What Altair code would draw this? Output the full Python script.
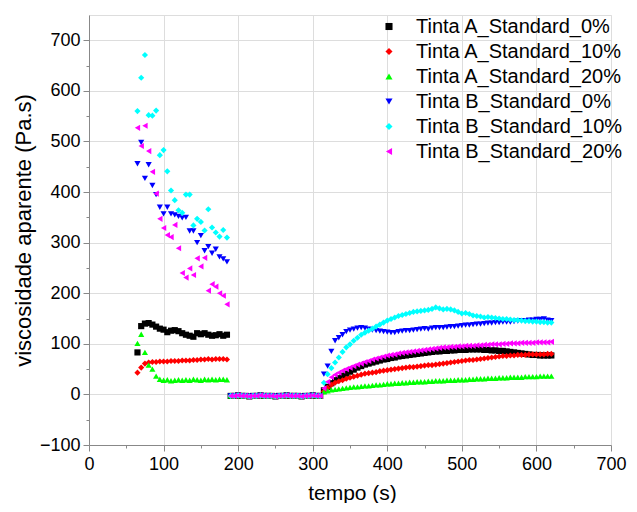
import altair as alt
import pandas as pd

SERIES = ["Tinta A_Standard_0%", "Tinta A_Standard_10%", "Tinta A_Standard_20%",
          "Tinta B_Standard_0%", "Tinta B_Standard_10%", "Tinta B_Standard_20%"]
COLORS = ["#000000", "#ff0000", "#00ff00", "#0000ff", "#00ffff", "#ff00ff"]
SHAPES = ["square", "diamond", "triangle-up", "triangle-down", "diamond", "triangle-left"]

X_TICKS = [0, 100, 200, 300, 400, 500, 600, 700]
X_MINOR = [50, 150, 250, 350, 450, 550, 650]
Y_TICKS = [-100, 0, 100, 200, 300, 400, 500, 600, 700]
Y_MINOR = [-50, 50, 150, 250, 350, 450, 550, 650]

T_EARLY = [65, 70, 75, 80, 85, 90, 95, 100, 105, 110, 115, 120, 125, 130, 135,
           140, 145, 150, 155, 160, 165, 170, 175, 180, 185]
T_PLATEAU = [190, 195, 200, 205, 210, 215, 220, 225, 230, 235, 240, 245, 250, 255,
             260, 265, 270, 275, 280, 285, 290, 295, 300, 305, 310]
T_RECOV = [315, 320, 325, 330, 335, 340, 345, 350, 355, 360,
           365, 370, 375, 380, 385, 390, 395, 400, 405, 410,
           415, 420, 425, 430, 435, 440, 445, 450, 455, 460,
           465, 470, 475, 480, 485, 490, 495, 500, 505, 510,
           515, 520, 525, 530, 535, 540, 545, 550, 555, 560,
           565, 570, 575, 580, 585, 590, 595, 600, 605, 610,
           615, 620]

PLATEAU = [-3, -3, -2, -3, -3, -4, -3, -3, -2, -3, -3, -3, -4, -3, -3,
           -2, -3, -3, -3, -4, -3, -3, -2, -3, -3]

A0_EARLY = [83, 135, 140, 141, 138, 134, 130, 128, 123, 126, 127, 125, 121, 118, 116,
            114, 121, 119, 121, 118, 116, 117, 119, 116, 118]
A10_EARLY = [43, 53, 61, 63, 64, 64, 65, 65, 65, 66, 66, 66, 67, 67, 67,
             68, 68, 69, 69, 70, 69, 70, 70, 70, 69]
A20_EARLY = [101, 119, 83, 58, 50, 36, 30, 28, 29, 27, 28, 29, 28, 29, 28,
             30, 29, 28, 30, 29, 30, 29, 30, 30, 29]
B0_EARLY = [456, 498, 427, 454, 413, 395, 370, 357, 370, 357, 355, 352, 349, 350, 323,
            323, 300, 314, 284, 292, 279, 287, 272, 268, 262]
B10_EARLY = [560, 626, 671, 552, 551, 561, 473, 483, 441, 403, 384, 364, 359, 395, 395,
             334, 347, 341, 324, 366, 330, 320, 312, 325, 310]
B20_EARLY = [527, 491, 531, 481, 440, 397, 347, 329, 315, 311, 335, 289, 240, 231, 249,
             236, 269, 253, 270, 205, 218, 213, 200, 195, 178]

A0_RECOV = [8, 15, 22, 28, 32, 37, 41, 45, 49, 53,
            56, 59, 61, 63, 65, 67, 69, 70, 72, 73,
            75, 76, 77, 78, 79, 80, 81, 82, 83, 84,
            85, 85, 86, 86, 87, 87, 88, 88, 88, 89,
            89, 89, 89, 88, 88, 87, 87, 86, 86, 85,
            84, 83, 82, 81, 80, 79, 78, 78, 77, 77,
            77, 77]
A10_RECOV = [6, 13, 19, 23, 26, 28, 31, 33, 35, 37,
             39, 41, 42, 43, 44, 46, 47, 48, 49, 50,
             51, 52, 53, 54, 54, 55, 56, 57, 58, 58,
             59, 60, 61, 62, 63, 64, 65, 66, 67, 68,
             68, 69, 70, 71, 72, 73, 74, 75, 76, 76,
             77, 77, 78, 78, 78, 79, 79, 79, 79, 79,
             80, 80]
A20_RECOV = [5, 7, 9, 10, 11, 12, 13, 14, 15, 15,
             16, 17, 17, 18, 19, 19, 20, 21, 21, 22,
             22, 23, 23, 24, 24, 25, 25, 25, 26, 26,
             27, 27, 27, 28, 28, 28, 29, 29, 29, 30,
             30, 31, 31, 31, 32, 32, 32, 33, 33, 33,
             34, 34, 34, 34, 35, 35, 35, 35, 36, 36,
             36, 36]
B0_RECOV = [40, 56, 85, 106, 112, 118, 124, 127, 129, 131,
            132, 131, 129, 127, 126, 125, 124, 123, 122, 122,
            124, 125, 126, 126, 127, 128, 129, 130, 129, 131,
            132, 132, 132, 133, 134, 134, 135, 136, 137, 137,
            138, 139, 139, 140, 141, 141, 142, 142, 143, 143,
            143, 144, 145, 146, 146, 147, 147, 148, 148, 149,
            147, 146]
B10_RECOV = [23, 40, 52, 63, 73, 84, 93, 99, 106, 112,
             118, 122, 126, 130, 134, 138, 142, 146, 149, 152,
             155, 157, 159, 161, 163, 164, 165, 166, 167, 169,
             172, 170, 168, 169, 168, 166, 163, 160, 161, 159,
             156, 155, 154, 152, 153, 152, 151, 150, 149, 149,
             148, 147, 147, 146, 145, 145, 144, 144, 143, 143,
             142, 142]
B20_RECOV = [12, 25, 34, 39, 43, 47, 50, 53, 56, 59,
             61, 64, 66, 69, 71, 73, 75, 77, 78, 79,
             81, 82, 83, 84, 85, 86, 87, 88, 89, 90,
             91, 92, 93, 93, 94, 94, 95, 95, 96, 96,
             96, 97, 97, 98, 98, 99, 99, 99, 100, 100,
             101, 101, 101, 102, 102, 102, 102, 103, 103, 103,
             103, 104]

EARLY = [A0_EARLY, A10_EARLY, A20_EARLY, B0_EARLY, B10_EARLY, B20_EARLY]
RECOV = [A0_RECOV, A10_RECOV, A20_RECOV, B0_RECOV, B10_RECOV, B20_RECOV]

rows = []
for i, name in enumerate(SERIES):
    for t, v in zip(T_EARLY, EARLY[i]):
        rows.append({"t": t, "v": v, "series": name, "k": i})
    for t, v in zip(T_PLATEAU, PLATEAU):
        rows.append({"t": t, "v": v, "series": name, "k": i})
    for t, v in zip(T_RECOV, RECOV[i]):
        rows.append({"t": t, "v": v, "series": name, "k": i})
df = pd.DataFrame(rows)

FONT = "Liberation Sans"
xscale = alt.Scale(domain=[0, 700], nice=False, zero=False)
yscale = alt.Scale(domain=[-100, 750], nice=False, zero=False)

legend = alt.Legend(title=None, orient="none", legendX=290, legendY=1.5,
                    labelFontSize=20, labelFont=FONT, labelColor="black", labelLimit=0,
                    symbolSize=50, rowPadding=5, labelOffset=17, padding=0,
                    symbolStrokeWidth=0)

points = alt.Chart(df).mark_point(filled=True, size=38, opacity=1, strokeWidth=0).encode(
    x=alt.X("t:Q", scale=xscale,
            axis=alt.Axis(orient="bottom", values=X_TICKS, title="tempo (s)", tickSize=6,
                          labelPadding=4, labelFontSize=18, titleFontSize=21,
                          titleFontWeight="normal",
                          titleX=263, titleY=48, titleBaseline="middle",
                          labelFlush=False)),
    y=alt.Y("v:Q", scale=yscale,
            axis=alt.Axis(orient="left", values=Y_TICKS, title="viscosidade aparente (Pa.s)",
                          tickSize=6, labelPadding=3, labelFontSize=18, titleFontSize=22,
                          titleFontWeight="normal",
                          titleX=-66, titleY=215, titleAngle=-90, titleAlign="center",
                          titleBaseline="middle", labelFlush=False)),
    color=alt.Color("series:N", scale=alt.Scale(domain=SERIES, range=COLORS), legend=legend),
    shape=alt.Shape("series:N", scale=alt.Scale(domain=SERIES, range=SHAPES), legend=legend),
    order=alt.Order("k:Q"),
)

minor = alt.Chart(df).mark_point(opacity=0).encode(
    x=alt.X("t:Q", scale=xscale,
            axis=alt.Axis(orient="bottom", values=X_MINOR, labels=False, title=None,
                          tickSize=3, domain=False)),
    y=alt.Y("v:Q", scale=yscale,
            axis=alt.Axis(orient="left", values=Y_MINOR, labels=False, title=None,
                          tickSize=3, domain=False)),
)

chart = alt.layer(points, minor).resolve_scale(
    x="independent", y="independent"
).resolve_axis(
    x="independent", y="independent"
).properties(
    width=522, height=430,
    autosize=alt.AutoSizeParams(type="none"),
    padding={"left": 81, "top": 7, "right": 17, "bottom": 58},
).configure_view(stroke=None).configure_axis(
    grid=False, domainColor="black", domainWidth=1.5, tickColor="black", tickWidth=1.5,
    labelColor="black", titleColor="black", labelFont=FONT, titleFont=FONT,
    titleFontWeight="normal",
).configure(font=FONT)

chart.save("out.html", embed_options={"renderer": "svg", "actions": False})
